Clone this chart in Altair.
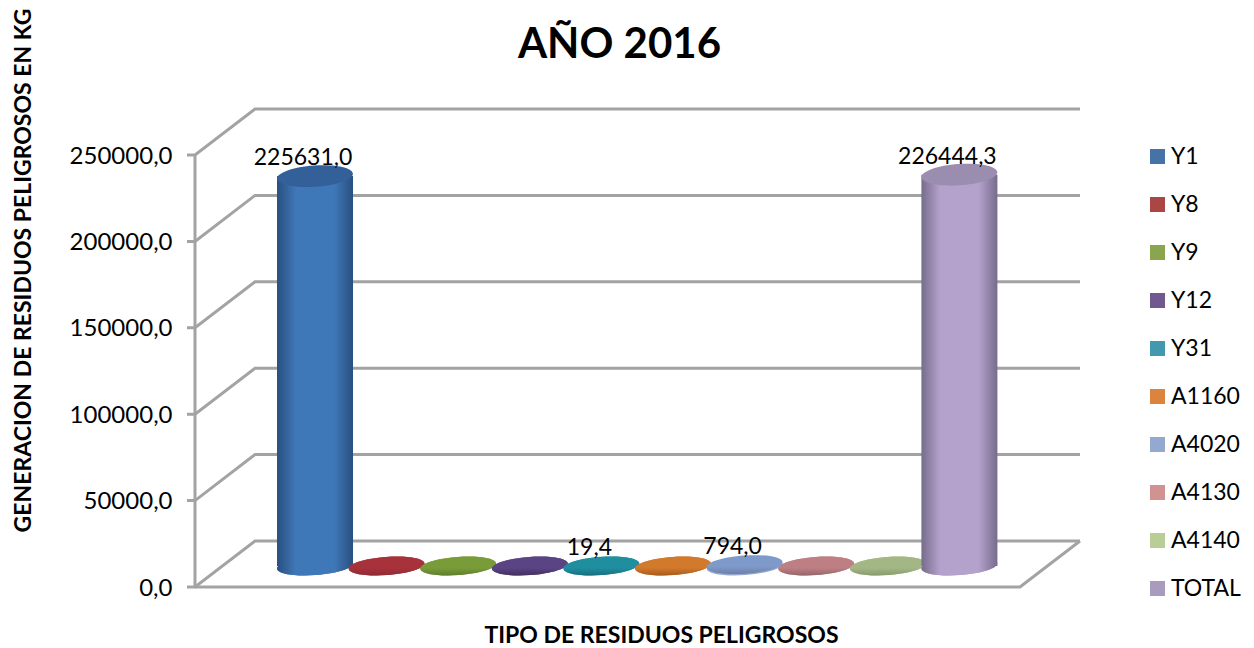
import math
import altair as alt
import pandas as pd

categories = ["Y1", "Y8", "Y9", "Y12", "Y31", "A1160", "A4020", "A4130", "A4140", "TOTAL"]
values = [225631.0, 0.0, 0.0, 0.0, 19.4, 0.0, 794.0, 0.0, 0.0, 226444.3]
labels = ["225631,0", "", "", "", "19,4", "", "794,0", "", "", "226444,3"]
legend_colors = ["#4572A7", "#AA4643", "#89A54E", "#71588F", "#4198AF", "#DB843D", "#93A9CF", "#D19392", "#B9CD96", "#A99BBD"]
dark_colors = ["#2A4F80", "#8E2B33", "#5F7F2E", "#44305F", "#17707F", "#A85A1E", "#6F7FA6", "#94676A", "#8A9A70", "#766C8C"]
mid_colors = ["#3F78B8", "#A8323C", "#7A9C38", "#5B4484", "#1F8FA0", "#D27A2C", "#7E9ACB", "#BD7F84", "#A3B785", "#B5A2CC"]
top_colors = ["#34609A", "#A8323C", "#7A9C38", "#5B4484", "#1F8FA0", "#D27A2C", "#7E9ACB", "#BD7F84", "#A3B785", "#9A8DB0"]
y_ticks = [0, 50000, 100000, 150000, 200000, 250000]

PX_W, PX_H = 885, 479
UNITS_PER_PX_Y = 250000 / 432
UNITS_PER_PX_X = 1 / 71.6
X_MIN = (195 - 315) * UNITS_PER_PX_X
X_MAX = (1080 - 315) * UNITS_PER_PX_X
Y_MAX = PX_H * UNITS_PER_PX_Y
DX = 60 * UNITS_PER_PX_X
DY = 46 * UNITS_PER_PX_Y
X_FRONT_END = (1020 - 315) * UNITS_PER_PX_X
BASE = 21 * UNITS_PER_PX_Y
HALF = 38 * UNITS_PER_PX_X
TICK = 8 * UNITS_PER_PX_X

x_scale = alt.Scale(domain=[X_MIN, X_MAX], nice=False, zero=False)
y_scale = alt.Scale(domain=[0, Y_MAX], nice=False, zero=False)

x_axis = alt.Axis(
    title="TIPO DE RESIDUOS PELIGROSOS", labels=False, ticks=False, domain=False, grid=False,
    titleFont="Lato", titleFontSize=23, titleFontWeight="bold", titleColor="#000000",
    titleX=466, titleY=37, titleAlign="center", titleLimit=600)
y_axis = alt.Axis(
    title="GENERACION DE RESIDUOS PELIGROSOS EN KG", values=y_ticks, domain=False, grid=False,
    labelExpr="replace(format(datum.value,'.1f'),'.',',')",
    labelFont="Lato", labelFontSize=24, labelColor="#000000", labelPadding=23, labelOffset=1,
    ticks=False,
    titleFont="Lato", titleFontSize=23, titleFontWeight="bold", titleColor="#000000",
    titleX=-160, titleY=162, titleAlign="center", titleLimit=600)


def ellipse(ratio, tilt=-4):
    c, s = math.cos(math.radians(tilt)), math.sin(math.radians(tilt))
    return (f"M{-c:.3f},{-s:.3f}A1,{ratio},{tilt},1,1,{c:.3f},{s:.3f}"
            f"A1,{ratio},{tilt},1,1,{-c:.3f},{-s:.3f}Z")


grid_rows = []
for v in y_ticks:
    grid_rows += [
        {"g": f"t{v}", "o": 0, "x": X_MIN - TICK, "y": v},
        {"g": f"t{v}", "o": 1, "x": X_MIN, "y": v},
        {"g": f"t{v}", "o": 2, "x": X_MIN + DX, "y": v + DY},
        {"g": f"t{v}", "o": 3, "x": X_MAX, "y": v + DY},
    ]
grid_rows += [
    {"g": "floor", "o": 0, "x": X_MIN, "y": 0},
    {"g": "floor", "o": 1, "x": X_FRONT_END, "y": 0},
    {"g": "floor", "o": 2, "x": X_MAX, "y": DY},
    {"g": "wall", "o": 0, "x": X_MIN, "y": 0},
    {"g": "wall", "o": 1, "x": X_MIN, "y": 250000},
]
grid_df = pd.DataFrame(grid_rows)

df = pd.DataFrame({
    "cat": categories,
    "value": values,
    "label": labels,
    "x": list(range(len(categories))),
})
df["x0"] = df["x"] - HALF
df["x1"] = df["x"] + HALF
df["base"] = BASE
df["top"] = df["value"] + BASE

X = alt.X("x:Q", scale=x_scale, axis=x_axis)
X0 = alt.X("x0:Q", scale=x_scale, axis=x_axis)
Y_GRID = alt.Y("y:Q", scale=y_scale, axis=y_axis)
Y_BASE = alt.Y("base:Q", scale=y_scale, axis=y_axis)
Y_TOP = alt.Y("top:Q", scale=y_scale, axis=y_axis)

grid = alt.Chart(grid_df).mark_line(color="#a3a3a3", strokeWidth=3).encode(
    x=X, y=Y_GRID, detail="g:N", order="o:Q",
)

legend_layer = alt.Chart(df).mark_point(shape=ellipse(0.24), size=5776, filled=True, opacity=1).encode(
    x=X,
    y=Y_BASE,
    color=alt.Color("cat:N", scale=alt.Scale(domain=categories, range=legend_colors), sort=None, legend=alt.Legend(
        title=None, orient="none", legendX=951, legendY=37, symbolType="square", symbolSize=225,
        symbolStrokeWidth=0, labelFont="Lato", labelFontSize=23, labelColor="#000000",
        labelOffset=2, rowPadding=24, values=categories)),
)

layers = [grid, legend_layer]
for i, cat in enumerate(categories):
    one = alt.Chart(df[df["cat"] == cat])
    side = alt.Gradient(gradient="linear", x1=0, x2=1, y1=0, y2=0, stops=[
        alt.GradientStop(offset=0, color=dark_colors[i]),
        alt.GradientStop(offset=0.25, color=mid_colors[i]),
        alt.GradientStop(offset=0.75, color=mid_colors[i]),
        alt.GradientStop(offset=1, color=dark_colors[i]),
    ])
    if values[i] > 1000:
        layers.append(one.mark_point(shape=ellipse(0.24), size=5776, filled=True, opacity=1, fill=side).encode(
            x=X, y=Y_BASE))
        layers.append(one.mark_rect(fill=side).encode(
            x=X0, x2="x1:Q", y=Y_BASE, y2="top:Q"))
        layers.append(one.mark_point(shape=ellipse(0.28), size=5776, filled=True, opacity=1, fill=top_colors[i]).encode(
            x=X, y=Y_TOP))
    else:
        flat = alt.Gradient(gradient="linear", x1=0, x2=0, y1=0, y2=1, stops=[
            alt.GradientStop(offset=0, color=mid_colors[i]),
            alt.GradientStop(offset=0.6, color=mid_colors[i]),
            alt.GradientStop(offset=1, color=dark_colors[i]),
        ])
        layers.append(one.mark_point(shape=ellipse(0.24), size=5776, filled=True, opacity=1, fill=flat).encode(
            x=X, y=Y_TOP))

text = alt.Chart(df[df["label"] != ""]).mark_text(
    font="Lato", fontSize=23, color="#000000", dx=-12, dy=-18, baseline="middle", align="center"
).encode(
    x=X,
    y=Y_TOP,
    text="label:N",
)
layers.append(text)

chart = alt.layer(*layers).properties(
    width=PX_W,
    height=PX_H,
    autosize="none",
    padding={"left": 187, "top": 100, "right": 166, "bottom": 61},
    background="#ffffff",
    title=alt.TitleParams("AÑO 2016", font="Lato", fontSize=42, fontWeight="bold", color="#000000",
                          anchor="middle", dx=-18, offset=-59),
).configure_view(stroke=None)

chart.save("out.html", embed_options={"renderer": "svg", "actions": False})
